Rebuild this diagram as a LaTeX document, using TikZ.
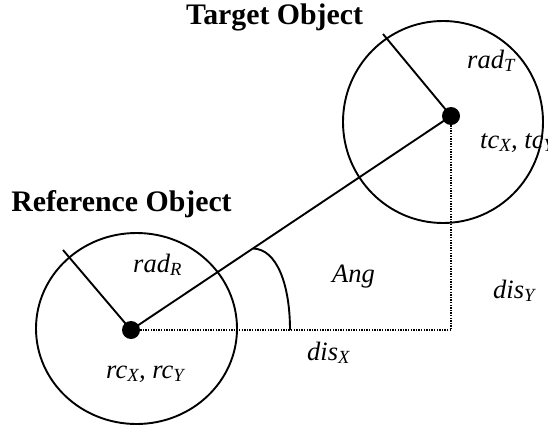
\documentclass[tikz,border=0pt]{standalone}
\usepackage{fontspec}
\setmainfont{Liberation Serif}
\usetikzlibrary{shapes.geometric}
\begin{document}
\begin{tikzpicture}[x=1pt,y=-1pt,
  objcircle/.style={draw, ellipse, line width=1.9pt, inner sep=0pt},
  centredot/.style={circle, fill=black, inner sep=0pt, minimum size=18pt},
  solidline/.style={line width=1.9pt},
  dotline/.style={line width=1.4pt, dash pattern=on 1.3pt off 1.3pt},
  title/.style={inner sep=0pt, anchor=base, font=\bfseries\fontsize{29.8}{30}\selectfont},
  lbl/.style={inner sep=0pt, anchor=base west, font=\itshape\fontsize{26.5}{27}\selectfont}]
\useasboundingbox (0,0) rectangle (548,428);
% circles
\node[objcircle, minimum width=201pt, minimum height=191pt] (refc) at (136.5,328.5) {};
\node[objcircle, minimum width=200pt, minimum height=202pt] (tgtc) at (443,122) {};
% centre dots
\node[centredot] (rdot) at (131,330) {};
\node[centredot] (tdot) at (451,116) {};
% helper coordinates
\coordinate (rr) at (63,250);
\coordinate (tr) at (383,34);
\coordinate (corner) at (451,330);
\coordinate (a1) at (253,248.5);
\coordinate (a2) at (290,330);
% connectors
\draw[solidline] (rdot.center) -- (rr);
\draw[solidline] (tdot.center) -- (tr);
\draw[solidline] (rdot.center) -- (tdot.center);
\draw[dotline] (rdot.east) -- (corner);
\draw[dotline] (tdot.south) -- (corner);
\draw[solidline] (a1) .. controls (277,249) and (290,285) .. (a2);
% titles
\node[title] (ttl) at (274.5,25) {Target Object};
\node[title] (rtl) at (121.5,211) {Reference Object};
% labels
\node[lbl] (radT) at (467,68) {rad\textsubscript{T}};
\node[lbl] (tc) at (480,148) {tc\textsubscript{X}, tc\textsubscript{Y}};
\node[lbl] (radR) at (133,272) {rad\textsubscript{R}};
\node[lbl] (rc) at (106,378) {rc\textsubscript{X}, rc\textsubscript{Y}};
\node[lbl] (ang) at (332,282) {Ang};
\node[lbl] (disY) at (493,298) {dis\textsubscript{Y}};
\node[lbl] (disX) at (307,360) {dis\textsubscript{X}};
\end{tikzpicture}
\end{document}
